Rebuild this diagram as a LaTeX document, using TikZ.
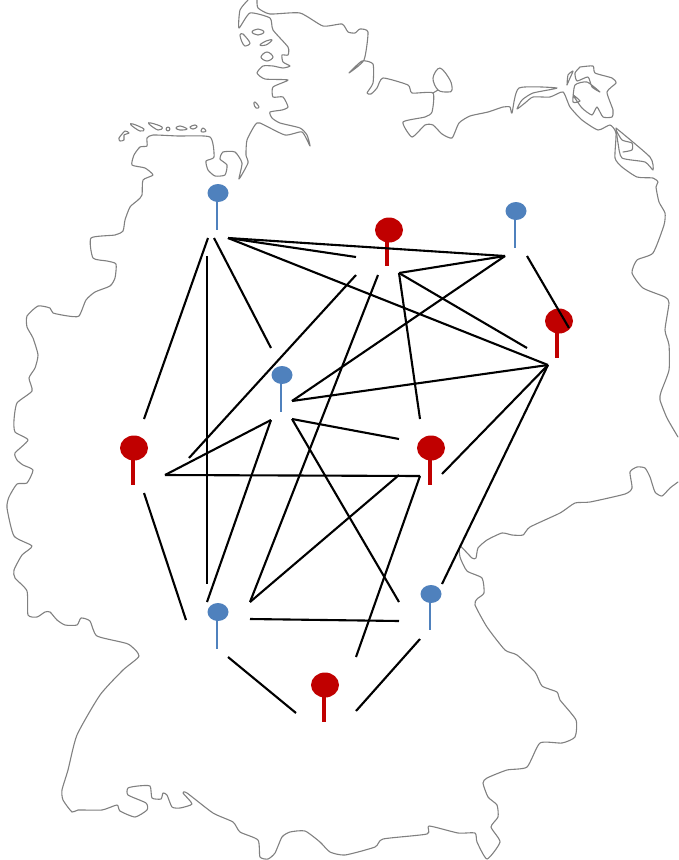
\documentclass[tikz,border=0pt]{standalone}
\begin{document}
\begin{tikzpicture}[x=1pt,y=-1pt,
  coast/.style={draw=black!50,line width=1.1pt,line join=round,line cap=round},
  link/.style={draw=black,line width=2.1pt},
  bluehead/.style={ellipse,fill=pinblue,inner sep=0pt,minimum width=21pt,minimum height=18pt},
  redhead/.style={ellipse,fill=pinred,inner sep=0pt,minimum width=28pt,minimum height=25pt},
  bluestem/.style={draw=pinblue,line width=2pt},
  redstem/.style={draw=pinred,line width=3.6pt},
  tr/.style={smooth,tension=0.35}]
\usetikzlibrary{shapes.geometric}
\definecolor{pinblue}{HTML}{4F81BD}
\definecolor{pinred}{HTML}{C00000}
\useasboundingbox (0,0) rectangle (678,860);
% --- map outline ---
\draw[coast] plot[tr] coordinates {(248,0)(240,10)(239,28)(250,13)(270,18)(273,30)(288,47)(288,55)(282,55)(283,62)(290,66)(283,68)(273,66)(263,66)(257,73)(265,79)(288,80)(273,87)(273,97)(283,97)(288,107)(282,110)(270,112)(272,118)(280,123)(300,128)(307,135)(310,146)(302,132)(285,135)(260,123)(255,125)(247,140)(246,155)(248,163)(239,179)(242,163)(235,152)(223,152)(220,159)(227,165)(225,175)(215,176)(208,170)(206,161)(214,157)(210,137)(178,136)(153,135)(147,138)(147,146)(140,147)(134,155)(132,165)(145,168)(153,175)(143,180)(142,195)(138,200)(130,207)(125,220)(123,231)(115,235)(91,238)(93,258)(107,261)(116,264)(115,278)(110,286)(95,292)(86,300)(79,316)(68,316)(53,313)(50,308)(38,306)(27,316)(27,327)(33,338)(38,355)(35,368)(29,378)(32,391)(17,403)(14,420)(15,432)(28,440)(15,453)(17,460)(23,465)(33,470)(27,483)(17,484)(9,497)(7,508)(14,536)(32,546)(22,555)(14,570)(15,578)(27,591)(28,615)(37,617)(45,612)(50,612)(57,620)(65,625)(77,625)(81,618)(90,621)(97,636)(128,644)(139,656)(123,670)(100,695)(77,735)(68,770)(62,790)(63,800)(72,812)(78,810)(102,810)(117,805)(120,811)(135,817)(147,810)(146,803)(128,795)(128,788)(138,786)(150,786)(152,798)(161,799)(163,793)(167,795)(172,807)(180,808)(192,804)(183,793)(187,793)(213,813)(233,822)(240,832)(258,840)(260,857)(268,859)(275,853)(282,837)(290,832)(305,831)(320,842)(330,852)(345,855)(375,847)(383,839)(427,834)(429,826)(458,833)(475,833)(477,842)(487,859)(500,842)(491,827)(498,817)(497,805)(488,797)(483,783)(487,778)(507,770)(527,767)(540,743)(562,743)(575,737)(576,720)(560,700)(557,692)(542,686)(535,672)(517,655)(505,650)(487,627)(475,605)(477,599)(484,593)(482,578)(467,571)(460,557)(460,546)(472,558)(476,558)(478,548)(487,540)(502,533)(512,535)(523,535)(530,527)(560,513)(575,503)(590,502)(625,494)(632,488)(630,472)(637,467)(645,468)(650,477)(655,492)(662,496)(670,488)(678,482)};
\draw[coast] plot[tr] coordinates {(678,437)(667,418)(660,400)(661,392)(669,370)(669,345)(665,330)(669,303)(665,297)(643,288)(632,273)(637,260)(653,253)(664,225)(665,213)(659,202)(656,187)(658,182)(653,178)(637,177)(622,167)(615,158)(616,133)(610,125)(598,130)(582,120)(570,107)(563,92)(550,97)(533,97)(525,103)(517,109)(522,100)(533,93)(557,88)(519,88)(512,113)(510,107)(503,107)(488,112)(470,116)(459,123)(452,138)(442,134)(433,125)(425,125)(412,137)(403,122)(425,117)(432,112)(433,93)(412,93)(408,85)(383,78)(377,88)(371,94)(367,93)(373,83)(373,64)(362,61)(349,73)(364,60)(368,32)(360,29)(355,33)(348,32)(342,24)(323,26)(300,13)(270,14)(258,8)(257,0)};
\draw[coast] (433,93) -- (438,90);
\draw[coast] plot[smooth cycle,tension=0.6] coordinates {(438,90)(433,78)(440,68)(450,80)(452,90)(448,92)};
% Ruegen and Usedom
\draw[coast] plot[tr] coordinates {(580,67)(593,66)(595,73)(612,78)(616,83)(607,92)(613,110)(612,117)(603,117)(597,107)(592,115)(582,108)(573,95)(580,101)(573,102)(575,85)(587,82)(600,92)(592,87)(588,77)(577,81)(575,73)(580,67)};
\draw[coast] plot[tr] coordinates {(567,85)(568,75)(573,71)(570,78)(567,85)};
\draw[coast] plot[tr] coordinates {(616,128)(650,157)(653,170)(645,162)(622,158)(618,143)(616,128)};
\draw[coast] plot[tr] coordinates {(616,130)(622,140)(632,143)(632,150)(623,152)};
% islands
\draw[coast] plot[smooth cycle,tension=0.7] coordinates {(252,32)(258,29)(264,32)(258,35)};
\draw[coast] plot[smooth cycle,tension=0.5] coordinates {(240,35)(243,34)(250,43)(245,46)(242,42)};
\draw[coast] plot[smooth cycle,tension=0.7] coordinates {(260,45)(266,41)(272,40)(266,45)};
\draw[coast] plot[smooth cycle,tension=0.7] coordinates {(261,57)(267,52)(273,57)(267,61)};
\draw[coast] plot[smooth cycle,tension=0.7] coordinates {(254,104)(255,102)(259,107)(256,108)};
\draw[coast] plot[smooth cycle,tension=0.4] coordinates {(119,138)(125,131)(129,133)(124,135)(124,140)(120,141)};
\draw[coast] plot[smooth cycle,tension=0.7] coordinates {(131,125)(133,124)(144,129)(140,131)};
\draw[coast] plot[smooth cycle,tension=0.7] coordinates {(149,124)(151,123)(162,127)(158,130)};
\draw[coast] plot[smooth cycle,tension=0.7] coordinates {(166,129)(168,127)(170,129)(168,131)};
\draw[coast] plot[smooth cycle,tension=0.7] coordinates {(176,128)(180,126)(187,129)(180,130)};
\draw[coast] plot[smooth cycle,tension=0.7] coordinates {(190,127)(195,125)(197,127)(193,129)};
\draw[coast] plot[smooth cycle,tension=0.7] coordinates {(201,131)(203,128)(206,131)(203,132)};
% --- pins ---
\node[bluehead] (b1) at (218,193) {};
\node[bluehead] (b2) at (516,211) {};
\node[bluehead] (b3) at (282,375) {};
\node[bluehead] (b4) at (431,594) {};
\node[bluehead] (b5) at (218,612) {};
\node[redhead] (r1) at (389,230) {};
\node[redhead] (r2) at (559,321) {};
\node[redhead] (r3) at (134,448) {};
\node[redhead] (r4) at (431,448) {};
\node[redhead] (r5) at (325,685) {};
\coordinate (bs1) at (217,230);
\coordinate (bs2) at (515,248);
\coordinate (bs3) at (281,412);
\coordinate (bs4) at (430,630);
\coordinate (bs5) at (217,649);
\coordinate (rs1) at (387,266);
\coordinate (rs2) at (557,358);
\coordinate (rs3) at (133,485);
\coordinate (rs4) at (430,485);
\coordinate (rs5) at (324,722);
\foreach \n in {1,...,5}{
  \draw[bluestem] (bs\n |- b\n.center) -- (bs\n);
  \draw[redstem] (rs\n |- r\n.center) -- (rs\n);
}
% --- connector ends ---
\coordinate (A1) at (228,238);
\coordinate (A2) at (208,238);
\coordinate (A3) at (207,256);
\coordinate (A4) at (214,238);
\coordinate (B1) at (356,257);
\coordinate (B2) at (356,275);
\coordinate (B3) at (378,275);
\coordinate (B4) at (399,273);
\coordinate (C1) at (505,256);
\coordinate (C2) at (527,256);
\coordinate (D1) at (569,328);
\coordinate (D2) at (527,348);
\coordinate (D3) at (548,365);
\coordinate (E1) at (271,348);
\coordinate (E2) at (292,401);
\coordinate (E3) at (271,420);
\coordinate (E4) at (292,419);
\coordinate (F1) at (144,419);
\coordinate (F2) at (189,458);
\coordinate (F3) at (165,475);
\coordinate (F4) at (144,493);
\coordinate (G1) at (420,419);
\coordinate (G2) at (399,439);
\coordinate (G3) at (442,474);
\coordinate (G4) at (420,476);
\coordinate (G5) at (399,475);
\coordinate (H1) at (442,584);
\coordinate (H2) at (399,602);
\coordinate (H3) at (399,621);
\coordinate (H4) at (420,639);
\coordinate (I1) at (207,584);
\coordinate (I2) at (207,602);
\coordinate (I3) at (250,602);
\coordinate (I4) at (250,619);
\coordinate (I5) at (186,620);
\coordinate (I6) at (228,657);
\coordinate (J1) at (296,713);
\coordinate (J2) at (356,711);
\coordinate (J3) at (356,657);
% --- connectors ---
\foreach \p/\q in {A1/C1,A1/B1,A1/D3,A2/F1,A3/I1,A4/E1,B2/F2,B3/I3,B4/C1,B4/D2,B4/G1,C1/E2,C2/D1,D3/E2,D3/G3,D3/H1,E3/F3,E3/I2,E4/G2,E4/H2,F3/G4,G5/I3,G4/J3,F4/I5,I4/H3,I6/J1,J2/H4}{
  \draw[link] (\p) -- (\q);
}
\end{tikzpicture}
\end{document}
